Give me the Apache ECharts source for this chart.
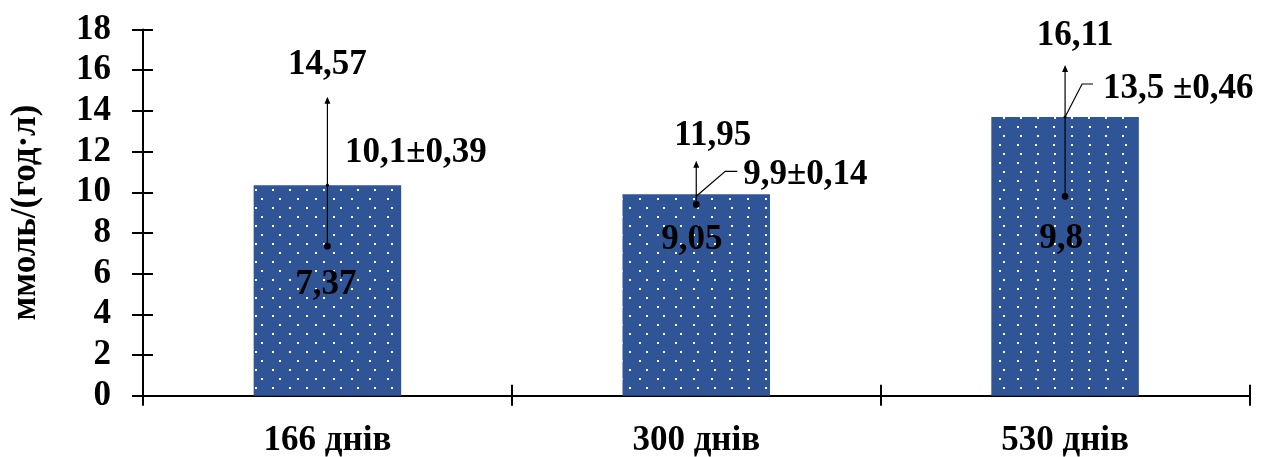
<!DOCTYPE html>
<html>
<head>
<meta charset="utf-8">
<script src="https://cdn.jsdelivr.net/npm/echarts@6/dist/echarts.min.js"></script>
<style>
    html, body {margin: 0; padding: 0; background: #fff;}
    #chart {width: 1266px; height: 457px;}
</style>
</head>
<body>
<div id="chart"></div>
<script>
// data
var categories = ['166 днів', '300 днів', '530 днів'];
var barValues = [10.35, 9.9, 13.7];        // bar heights as drawn
var lineLow = [7.35, 9.4, 9.8];            // lower end of the min-max line (dot)
var lineHigh = [14.7, 11.55, 16.25];       // upper end (arrow)
var meanLabels = ['10,1±0,39', '9,9±0,14', '13,5 ±0,46'];
var lowLabels = ['7,37', '9,05', '9,8'];
var highLabels = ['14,57', '11,95', '16,11'];
var yMin = 0, yMax = 18, yStep = 2;

// label placement (pixel offsets from the marks)
var hiOff = [[0, -31.5], [16.5, -24.5], [10, -29.5]];
var loOff = [[-1.5, 38.5], [-4.5, 35.5], [-4, 43]];
var meanOff = [[17.5, -32.5], [47, -19.5], [38, -28.5]];
var leaders = [null, [[0, 2], [29, -23], [41, -23]], [[0, 0], [17, -33], [28, -33]]];
var topDot = [true, false, true];

var FONT = '"Liberation Serif", "Times New Roman", serif';
var labelFont = 'bold 35px ' + FONT;

var chart = echarts.init(document.getElementById('chart'));

function renderLines(params, api) {
    var i = api.value(0);
    var x = api.coord([i, 0])[0];
    var yLo = api.coord([i, api.value(1)])[1];
    var yHi = api.coord([i, api.value(2)])[1];
    var yBar = api.coord([i, api.value(3)])[1];
    var kids = [];

    kids.push({
        type: 'line',
        shape: {x1: x, y1: yLo, x2: x, y2: yHi + 4},
        style: {stroke: '#000', lineWidth: 1.2}
    });
    kids.push({
        type: 'polygon',
        shape: {points: [[x, yHi], [x - 3, yHi + 7], [x + 3, yHi + 7]]},
        style: {fill: '#000'}
    });
    kids.push({
        type: 'circle',
        shape: {cx: x, cy: yLo, r: 3.4},
        style: {fill: '#000'}
    });
    if (topDot[i]) {
        kids.push({
            type: 'circle',
            shape: {cx: x, cy: yBar, r: 1.6},
            style: {fill: '#000'}
        });
    }
    if (leaders[i]) {
        var pts = leaders[i].map(function (p) {
            return [x + p[0], yBar + p[1]];
        });
        kids.push({
            type: 'polyline',
            shape: {points: pts},
            style: {stroke: '#000', lineWidth: 1.2, fill: null}
        });
    }
    kids.push({
        type: 'text',
        style: {
            text: highLabels[i], x: x + hiOff[i][0], y: yHi + hiOff[i][1],
            font: labelFont, fill: '#000', align: 'center', verticalAlign: 'middle'
        }
    });
    kids.push({
        type: 'text',
        style: {
            text: lowLabels[i], x: x + loOff[i][0], y: yLo + loOff[i][1],
            font: labelFont, fill: '#000', align: 'center', verticalAlign: 'middle'
        }
    });
    kids.push({
        type: 'text',
        style: {
            text: meanLabels[i], x: x + meanOff[i][0], y: yBar + meanOff[i][1],
            font: labelFont, fill: '#000', align: 'left', verticalAlign: 'middle'
        }
    });
    return {type: 'group', children: kids};
}

var lineData = [];
for (var i = 0; i < categories.length; i++) {
    lineData.push([i, lineLow[i], lineHigh[i], barValues[i]]);
}

var option = {
    animation: false,
    backgroundColor: '#fff',
    grid: {
        left: 143,
        right: 16.5,
        top: 29.5,
        bottom: 61.3,
        containLabel: false,
        outerBoundsMode: 'none'
    },
    xAxis: [
        {
            type: 'category',
            position: 'bottom',
            data: categories,
            boundaryGap: true,
            axisLine: {lineStyle: {color: '#000', width: 2}},
            axisTick: {show: true, length: 10, lineStyle: {color: '#000', width: 2}},
            axisLabel: {
                margin: 28,
                color: '#000',
                fontSize: 35,
                fontWeight: 'bold',
                fontFamily: FONT
            },
            splitLine: {show: false}
        },
        {
            type: 'category',
            position: 'bottom',
            data: categories,
            boundaryGap: true,
            axisLine: {show: false},
            axisTick: {show: true, inside: true, length: 11, lineStyle: {color: '#000', width: 2}},
            axisLabel: {show: false},
            splitLine: {show: false}
        }
    ],
    yAxis: [
        {
            type: 'value',
            position: 'left',
            min: yMin,
            max: yMax,
            interval: yStep,
            name: 'ммоль/(год·л)',
            nameLocation: 'middle',
            nameGap: 100,
            nameTextStyle: {
                color: '#000',
                fontSize: 35,
                fontWeight: 'bold',
                fontFamily: FONT
            },
            axisLine: {show: true, lineStyle: {color: '#000', width: 2}},
            axisTick: {show: true, length: 11, lineStyle: {color: '#000', width: 2}},
            axisLabel: {
                margin: 32,
                color: '#000',
                fontSize: 35,
                fontWeight: 'bold',
                fontFamily: FONT
            },
            splitLine: {show: false}
        },
        {
            type: 'value',
            position: 'left',
            min: yMin,
            max: yMax,
            interval: yStep,
            axisLine: {show: false},
            axisTick: {show: true, inside: true, length: 10, lineStyle: {color: '#000', width: 2}},
            axisLabel: {show: false},
            splitLine: {show: false}
        }
    ],
    series: [
        {
            type: 'bar',
            data: barValues,
            barWidth: '40%',
            itemStyle: {
                color: '#2F5597',
                decal: {
                    symbol: 'rect',
                    symbolSize: 1,
                    color: '#ffffff',
                    dashArrayX: [[2, 15], [0, 8.5, 2, 6.5]],
                    dashArrayY: [2, 6.5],
                    rotation: 0
                }
            },
            z: 2
        },
        {
            type: 'custom',
            renderItem: renderLines,
            data: lineData,
            encode: {x: 0, y: [1, 2]},
            z: 5
        }
    ]
};

chart.setOption(option);
</script>
</body>
</html>
